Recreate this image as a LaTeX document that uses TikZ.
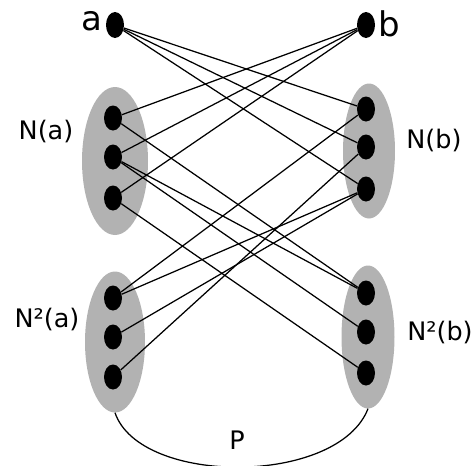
\documentclass[tikz,border=0pt]{standalone}
\usepackage{fontspec}
\setmainfont{DejaVu Sans}
\usetikzlibrary{shapes.geometric}
\definecolor{setgray}{RGB}{178,178,178}
\tikzset{
  x=1pt, y=-1pt,
  setblob/.style={ellipse, fill=setgray, draw=none, inner sep=0pt},
  vdot/.style={ellipse, fill=black, draw=none, inner sep=0pt, minimum width=18pt, minimum height=25pt},
  edge/.style={draw=black, line width=1.25pt},
  lbl/.style={inner sep=0pt, font=\fontsize{25.5}{28}\selectfont},
  biglbl/.style={inner sep=0pt, font=\fontsize{34}{38}\selectfont},
}
\begin{document}
\begin{tikzpicture}
\useasboundingbox (0,0) rectangle (475,466);
% set regions
\node[setblob, minimum width=66pt, minimum height=148pt] (Na) at (115,161) {};
\node[setblob, minimum width=52pt, minimum height=135pt] (Nb) at (369,151) {};
\node[setblob, minimum width=60pt, minimum height=141pt] (N2a) at (115,342) {};
\node[setblob, minimum width=53pt, minimum height=143pt] (N2b) at (368,337) {};
% vertices
\node[vdot, minimum height=26pt] (a) at (115,25) {};
\node[vdot, minimum height=26pt] (b) at (366,25) {};
\node[vdot] (a1) at (113,118) {};
\node[vdot] (a2) at (113,157) {};
\node[vdot] (a3) at (113,198) {};
\node[vdot] (b1) at (366,109) {};
\node[vdot] (b2) at (366,147) {};
\node[vdot] (b3) at (366,189) {};
\node[vdot] (c1) at (113,298) {};
\node[vdot] (c2) at (113,337) {};
\node[vdot] (c3) at (113,377) {};
\node[vdot] (d1) at (366,293) {};
\node[vdot] (d2) at (366,332) {};
\node[vdot] (d3) at (366,373) {};
% edges
\draw[edge] (a) -- (b1);
\draw[edge] (a) -- (b2);
\draw[edge] (a) -- (b3);
\draw[edge] (b) -- (a1);
\draw[edge] (b) -- (a2);
\draw[edge] (b) -- (a3);
\draw[edge] (a1) -- (d1);
\draw[edge] (a2) -- (d1);
\draw[edge] (a2) -- (d2);
\draw[edge] (a3) -- (d3);
\draw[edge] (b1) -- (c1);
\draw[edge] (b3) -- (c1);
\draw[edge] (b3) -- (c2);
\draw[edge] (b2) -- (c3);
% path P
\draw[edge] (N2a.south) .. controls (140,486) and (338,486) .. (N2b.south);
% labels
\node[biglbl] (la) at (92,21) {a};
\node[biglbl] (lb) at (389,24) {b};
\node[lbl] (lNa) at (46,132) {N(a)};
\node[lbl] (lNb) at (434,140) {N(b)};
\node[lbl] (lN2a) at (47,320) {N²(a)};
\node[lbl] (lN2b) at (440,332) {N²(b)};
\node[lbl] (lP) at (237,440) {P};
\end{tikzpicture}
\end{document}
